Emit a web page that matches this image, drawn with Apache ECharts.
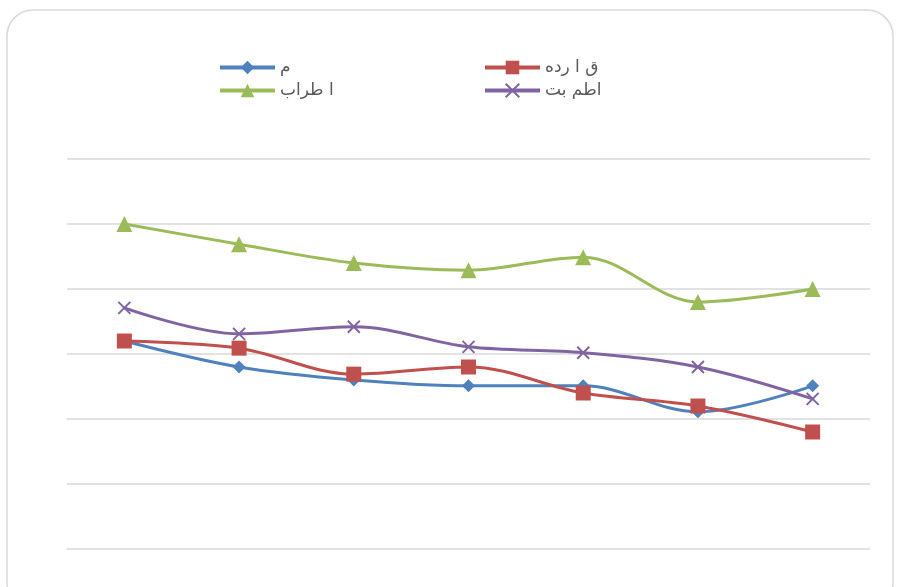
<!DOCTYPE html>
<html><head><meta charset="utf-8">
<script src="https://cdn.jsdelivr.net/npm/echarts@6/dist/echarts.min.js"></script>
<style>html,body{margin:0;padding:0;background:#fff}#c{width:897px;height:587px}</style>
</head><body><div id="c"></div>
<script>
const categories = ['1','2','3','4','5','6','7'];
const seriesNames = ['م', 'ق ا رده', 'ا طراب', 'اطم بت'];
const blueValues = [3.2, 2.8, 2.6, 2.51, 2.51, 2.11, 2.51];
const redValues = [3.2, 3.09, 2.69, 2.8, 2.4, 2.2, 1.8];
const greenValues = [5.0, 4.69, 4.4, 4.29, 4.49, 3.8, 4.0];
const purpleValues = [3.71, 3.31, 3.42, 3.11, 3.02, 2.8, 2.31];

const colors = ['#4f81bd', '#c0504d', '#9bbb59', '#8064a2'];
const crossPath = 'path://M0,0 L10,10 M10,0 L0,10';

function mk(name, data, color, symbol, size, extra) {
  return Object.assign({
    name, type: 'line', data, smooth: 0.35, symbol, symbolSize: size,
    lineStyle: { color, width: 3 }, itemStyle: { color },
    emphasis: { disabled: true }
  }, extra || {});
}

const legendBase = {
  orient: 'vertical', top: 54, itemWidth: 55, itemHeight: 17, itemGap: 6,
  lineStyle: { width: 4 },
  textStyle: { color: '#595959', fontSize: 17, fontFamily: 'DejaVu Sans' }
};

const chart = echarts.init(document.getElementById('c'));
chart.setOption({
  animation: false,
  graphic: [{
    type: 'rect', shape: { x: 7, y: 10, width: 886, height: 600, r: 26 },
    style: { fill: 'none', stroke: '#d9d9d9', lineWidth: 1.5 }, z: -1
  }],
  legend: [
    Object.assign({}, legendBase, { left: 213, data: [seriesNames[0], seriesNames[2]] }),
    Object.assign({}, legendBase, { left: 478, data: [seriesNames[1], seriesNames[3]] })
  ],
  grid: { left: 67, right: 27, top: 159, bottom: 38 },
  xAxis: {
    type: 'category', data: categories, boundaryGap: true,
    axisLine: { show: false }, axisTick: { show: false }, axisLabel: { show: false }
  },
  yAxis: {
    type: 'value', min: 0, max: 6, interval: 1,
    axisLabel: { show: false }, axisLine: { show: false }, axisTick: { show: false },
    splitLine: { lineStyle: { color: '#d9d9d9', width: 1.5 } }
  },
  series: [
    mk(seriesNames[0], blueValues, colors[0], 'diamond', 13),
    mk(seriesNames[1], redValues, colors[1], 'rect', 15),
    mk(seriesNames[2], greenValues, colors[2], 'triangle', 16),
    mk(seriesNames[3], purpleValues, colors[3], crossPath, 12,
       { itemStyle: { color: colors[3], borderColor: colors[3], borderWidth: 2 } })
  ]
});
</script></body></html>
